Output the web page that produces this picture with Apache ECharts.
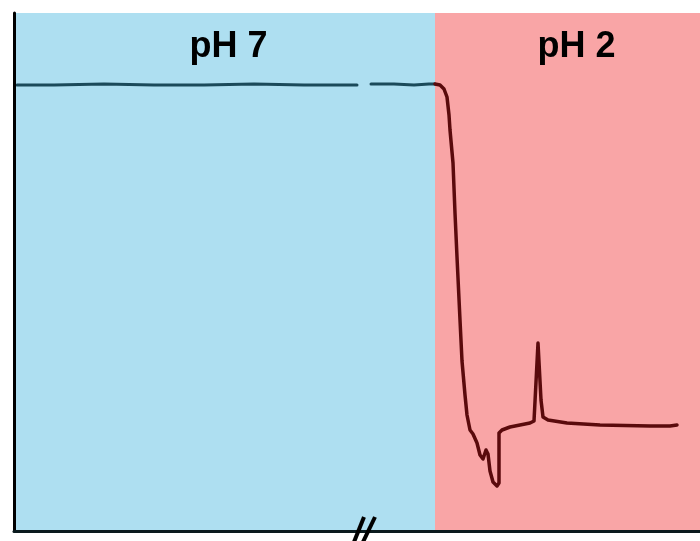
<!DOCTYPE html>
<html>
<head>
<meta charset="utf-8">
<style>html,body{margin:0;padding:0;background:#fff}#c{width:700px;height:541px}</style>
<script src="https://cdn.jsdelivr.net/npm/echarts@6/dist/echarts.min.js"></script>
</head>
<body>
<div id="c"></div>
<script>
// Regions (x in arbitrary time units)
const regionNames = ['pH 7', 'pH 2'];
const regionBounds = [[0, 421], [421, 686]];
const xMax = 686;
const yMax = 518;
const breakX = 350;

// pH 7 trace (null = axis break gap)
const ph7Time   = [3, 40, 90, 140, 190, 240, 290, 343, null, 357, 380, 400, 415, 421];
const ph7Signal = [446, 446, 447, 446, 446, 447, 446, 446, null, 447, 447, 446, 447, 447];

// pH 2 trace
const ph2Time   = [421, 426, 430, 433, 435, 436, 439, 441, 443, 446, 448, 451, 453, 456, 459, 463, 466, 469, 472, 474, 476, 479, 483, 484, 485, 485, 488, 496, 516, 520, 524, 527, 529, 534, 553, 586, 636, 656, 663];
const ph2Signal = [447, 446, 442, 434, 416, 401, 368, 318, 274, 211, 170, 136, 116, 101, 97, 88, 76, 72, 81, 77, 60, 49, 45, 44, 48, 98, 101, 104, 108, 110, 188, 131, 114, 111, 108, 106, 105, 105, 106];

const ph7Data = ph7Time.map((t, i) => t === null ? [null, null] : [t, ph7Signal[i]]);
const ph2Data = ph2Time.map((t, i) => [t, ph2Signal[i]]);

const chart = echarts.init(document.getElementById('c'));
const labelBase = {show: true, position: 'insideTop', distance: 16, color: '#000', fontFamily: 'Liberation Sans, Arial, sans-serif', fontWeight: 'bold', fontSize: 36};
chart.setOption({
  animation: false,
  grid: {left: 14, right: 0, top: 13, bottom: 10},
  xAxis: {type: 'value', min: 0, max: xMax, z: 10,
    axisLine: {show: true, lineStyle: {color: '#0a1a1e', width: 3}},
    axisTick: {show: false}, axisLabel: {show: false}, splitLine: {show: false}},
  yAxis: {type: 'value', min: 0, max: yMax, z: 10,
    axisLine: {show: true, lineStyle: {color: '#000', width: 3}},
    axisTick: {show: false}, axisLabel: {show: false}, splitLine: {show: false}},
  series: [
    {type: 'line', data: [], silent: true,
     markArea: {silent: true, data: [
       [{xAxis: regionBounds[0][0], name: regionNames[0], itemStyle: {color: '#AEDFF1', opacity: 1}, label: Object.assign({}, labelBase, {offset: [4, 0]})}, {xAxis: regionBounds[0][1]}],
       [{xAxis: regionBounds[1][0], name: regionNames[1], itemStyle: {color: '#F9A5A6', opacity: 1}, label: Object.assign({}, labelBase, {offset: [9, 0]})}, {xAxis: regionBounds[1][1]}]
     ]}},
    {type: 'line', data: ph7Data, showSymbol: false, connectNulls: false, z: 3,
     lineStyle: {color: '#1B4A5A', width: 3, cap: 'round', join: 'round'}},
    {type: 'line', data: ph2Data, showSymbol: false, z: 3,
     lineStyle: {color: '#5A0A0C', width: 3.5, cap: 'round', join: 'round'}}
  ]
});

const p = chart.convertToPixel({xAxisIndex: 0, yAxisIndex: 0}, [breakX, 0]);
chart.setOption({graphic: [
  {type: 'line', z: 100, shape: {x1: p[0] - 10, y1: p[1] + 11, x2: p[0], y2: p[1] - 14}, style: {stroke: '#000', lineWidth: 4}},
  {type: 'line', z: 100, shape: {x1: p[0] - 1, y1: p[1] + 11, x2: p[0] + 11, y2: p[1] - 14}, style: {stroke: '#000', lineWidth: 4}}
]});
</script>
</body>
</html>
